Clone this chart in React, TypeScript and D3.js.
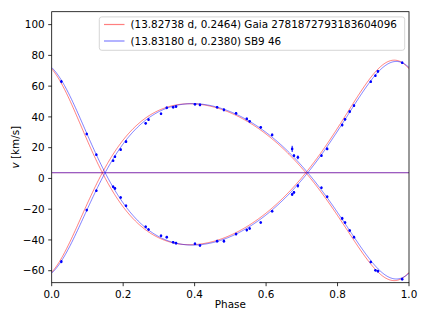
import React from "react";
import * as d3 from "d3";

const width = 429;
const height = 322;
const margin = { top: 11.7, right: 20, bottom: 39.3, left: 51.7 };
const font = "'DejaVu Sans', sans-serif";
const fontSize = 10.4;

// two orbital solutions: Gaia and SB9
const labels = [
  "(13.82738 d, 0.2464) Gaia 2781872793183604096",
  "(13.83180 d, 0.2380) SB9 46",
];
const colors = ["red", "blue"];
const ecc = [0.2464, 0.238];
const omegaDeg = [26.8, 27.0];
const t0 = [0.003, 0.01];
const k1 = [60.0, 59.7];
const k2 = [57.5, 57.0];
const gamma = [3.7, 3.7];

// observed radial velocities (phase, primary, secondary)
const obsPhase = [
  0.027, 0.098, 0.125, 0.172, 0.177, 0.193, 0.208, 0.263, 0.271, 0.306, 0.322,
  0.34, 0.348, 0.401, 0.415, 0.463, 0.482, 0.516, 0.546, 0.554, 0.585, 0.617,
  0.673, 0.678, 0.689, 0.755, 0.771, 0.813, 0.821, 0.834, 0.846, 0.893, 0.906,
  0.913, 0.981,
];
const obsV1 = [
  63.0, 28.9, 15.4, -5.4, -6.5, -12.4, -17.8, -31.5, -33.2, -37.3, -38.2,
  -41.5, -42.1, -42.5, -43.6, -40.8, -40.8, -36.2, -33.6, -32.6, -28.7, -21.3,
  -10.4, -9.1, -4.8, 14.8, 19.2, 34.7, 38.4, 43.4, 47.3, 62.9, 66.8, 69.6, 75.2,
];
const obsV2 = [
  -54.1, -20.6, -8.0, 11.5, 14.1, 18.7, 23.9, 35.8, 38.2, 42.0, 45.9, 46.3,
  46.7, 48.2, 47.8, 46.3, 44.6, 42.3, 38.7, 37.1, 33.2, 28.3, 19.2, 14.8, 13.7,
  -6.1, -11.9, -26.0, -28.7, -33.9, -38.2, -54.3, -59.7, -60.3, -65.5,
];
const obsErr1 = [
  1.0, 0.8, 0.8, 0.8, 0.8, 0.8, 0.8, 0.8, 0.8, 0.8, 0.8, 0.8, 0.8, 0.8, 0.8,
  0.8, 1.0, 0.8, 0.8, 0.8, 0.8, 0.8, 1.0, 0.8, 1.2, 0.8, 0.8, 1.0, 0.8, 0.8,
  0.8, 0.8, 0.8, 0.8, 0.8,
];
const obsErr2 = [
  1.0, 0.8, 0.8, 0.8, 0.8, 0.8, 0.8, 0.8, 0.8, 0.8, 0.8, 0.8, 0.8, 0.8, 0.8,
  0.8, 1.0, 0.8, 0.8, 0.8, 0.8, 0.8, 2.0, 0.8, 1.2, 0.8, 0.8, 1.0, 0.8, 0.8,
  0.8, 0.8, 0.8, 0.8, 0.8,
];

const xTicks = [0, 0.2, 0.4, 0.6, 0.8, 1.0];
const yTicks = [-60, -40, -20, 0, 20, 40, 60, 80, 100];

// Keplerian radial velocity term cos(nu+w) + e cos w
function kepTerm(phase: number, i: number) {
  const e = ecc[i];
  const w = (omegaDeg[i] * Math.PI) / 180;
  const M = 2 * Math.PI * (phase - t0[i]);
  let E = M;
  for (let k = 0; k < 30; k++) {
    E = E - (E - e * Math.sin(E) - M) / (1 - e * Math.cos(E));
  }
  const nu =
    2 *
    Math.atan2(
      Math.sqrt(1 + e) * Math.sin(E / 2),
      Math.sqrt(1 - e) * Math.cos(E / 2)
    );
  return Math.cos(nu + w) + e * Math.cos(w);
}

const App = () => {
  const x = d3
    .scaleLinear()
    .domain([0, 1])
    .range([margin.left, width - margin.right]);
  const y = d3
    .scaleLinear()
    .domain([-67.8, 108.4])
    .range([height - margin.bottom, margin.top]);

  const samples = d3.range(0, 1.0001, 0.002);
  const line = d3
    .line<[number, number]>()
    .x((d) => x(d[0]))
    .y((d) => y(d[1]));

  const fmtY = (d: number) => (d < 0 ? "\u2212" + Math.abs(d) : String(d));

  return (
    <svg
      width={width}
      height={height}
      style={{ position: "absolute", left: 0, top: 0, background: "white" }}
      fontFamily={font}
      fontSize={fontSize}
    >
      <defs>
        <clipPath id="plot">
          <rect
            x={margin.left}
            y={margin.top}
            width={width - margin.left - margin.right}
            height={height - margin.top - margin.bottom}
          />
        </clipPath>
      </defs>
      <g clipPath="url(#plot)">
        {colors.map((c, i) => (
          <g key={c} stroke={c} strokeOpacity={0.5} fill="none" strokeWidth={1}>
            <path
              d={line(samples.map((p) => [p, gamma[i] + k1[i] * kepTerm(p, i)]))!}
            />
            <path
              d={line(samples.map((p) => [p, gamma[i] - k2[i] * kepTerm(p, i)]))!}
            />
            <line
              x1={x(0)}
              x2={x(1)}
              y1={y(gamma[i])}
              y2={y(gamma[i])}
            />
          </g>
        ))}
        <g stroke="blue" fill="blue">
          {obsPhase.map((p, j) => (
            <g key={j}>
              <line
                x1={x(p)}
                x2={x(p)}
                y1={y(obsV1[j] - obsErr1[j])}
                y2={y(obsV1[j] + obsErr1[j])}
                strokeWidth={1}
              />
              <circle cx={x(p)} cy={y(obsV1[j])} r={1.3} stroke="none" />
              <line
                x1={x(p)}
                x2={x(p)}
                y1={y(obsV2[j] - obsErr2[j])}
                y2={y(obsV2[j] + obsErr2[j])}
                strokeWidth={1}
              />
              <circle cx={x(p)} cy={y(obsV2[j])} r={1.3} stroke="none" />
            </g>
          ))}
        </g>
      </g>

      {/* axes frame */}
      <rect
        x={margin.left}
        y={margin.top}
        width={width - margin.left - margin.right}
        height={height - margin.top - margin.bottom}
        fill="none"
        stroke="black"
        strokeWidth={0.8}
      />

      {/* x axis */}
      {xTicks.map((t) => (
        <g key={t}>
          <line
            x1={x(t)}
            x2={x(t)}
            y1={height - margin.bottom}
            y2={height - margin.bottom + 3.5}
            stroke="black"
            strokeWidth={0.8}
          />
          <text x={x(t)} y={297.6} textAnchor="middle" fill="black">
            {d3.format(".1f")(t)}
          </text>
        </g>
      ))}
      <text x={(x(0) + x(1)) / 2} y={308.3} textAnchor="middle">
        Phase
      </text>

      {/* y axis */}
      {yTicks.map((t) => (
        <g key={t}>
          <line
            x1={margin.left - 3.5}
            x2={margin.left}
            y1={y(t)}
            y2={y(t)}
            stroke="black"
            strokeWidth={0.8}
          />
          <text x={margin.left - 7} y={y(t)} dy="0.36em" textAnchor="end">
            {fmtY(t)}
          </text>
        </g>
      ))}
      <text
        transform={`translate(19,${(y(-67.8) + y(108.4)) / 2}) rotate(-90)`}
        textAnchor="middle"
      >
        <tspan fontStyle="italic">v</tspan> [km/s]
      </text>

      {/* legend */}
      <rect
        x={99.3}
        y={16.9}
        width={305.4}
        height={33.4}
        rx={2.5}
        fill="white"
        fillOpacity={0.8}
        stroke="#cccccc"
        strokeWidth={0.8}
      />
      {labels.map((l, i) => (
        <g key={l}>
          <line
            x1={104}
            x2={124.5}
            y1={24.5 + i * 16.5}
            y2={24.5 + i * 16.5}
            stroke={colors[i]}
            strokeOpacity={0.5}
            strokeWidth={1.2}
          />
          <text x={130.5} y={24.5 + i * 16.5} dy="0.36em">
            {l}
          </text>
        </g>
      ))}
    </svg>
  );
};

export default App;
